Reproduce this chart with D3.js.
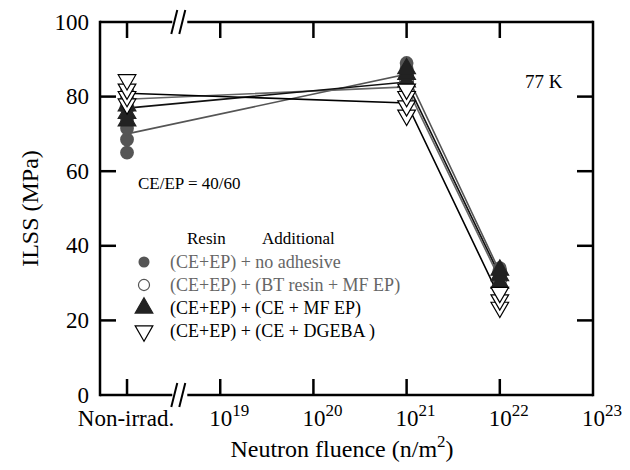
<!DOCTYPE html>
<html>
<head>
<meta charset="UTF-8">
<script src="https://cdn.jsdelivr.net/npm/d3@7"></script>
<style>
  body{ margin:0; }
  svg, svg text, svg tspan{ font-family:"Liberation Serif", Tinos, "Times New Roman", serif !important; }
</style>
</head>
<body>
<script>
// x categories: non-irradiated + fluence (n/m^2)
let fluences = ["non", 1e21, 1e22];
let xTickVals = [1e19, 1e20, 1e21, 1e22, 1e23];
let yTickVals = [0, 20, 40, 60, 80, 100];

// individual specimens per fluence
let noAdhesivePts = [[65, 68.5, 71.5, 74], [86, 87.5, 89], [32, 33, 34]];
let btResinPts    = [[77, 79, 81], [82, 84, 86], [29, 31, 33]];
let ceMfEpPts     = [[73.5, 75.5, 77.5], [84, 86, 87.5], [30, 32, 33.5]];
let dgebaPts      = [[78, 80, 82, 84.5], [75, 77.5, 80, 82], [23.5, 25.5, 27.5]];

// averages joined by lines
let noAdhesiveAvg = [70, 86, 33];
let btResinAvg    = [79.3, 82.6, 31];
let ceMfEpAvg     = [76.9, 83.9, 32];
let dgebaAvg      = [80.9, 78.3, 26];

let series = [
  {name:"(CE+EP) + no adhesive",        pts:noAdhesivePts, avg:noAdhesiveAvg, sym:"circle", fill:"#555", stroke:"none", line:"#555", txt:"#666"},
  {name:"(CE+EP) + (BT resin + MF EP)", pts:btResinPts,    avg:btResinAvg,    sym:"circle", fill:"#fff", stroke:"#555", line:"#666", txt:"#666"},
  {name:"(CE+EP) + (CE + MF EP)",       pts:ceMfEpPts,     avg:ceMfEpAvg,     sym:"up",     fill:"#222", stroke:"#222", line:"#111", txt:"#000"},
  {name:"(CE+EP) + (CE + DGEBA )",      pts:dgebaPts,      avg:dgebaAvg,      sym:"down",   fill:"#fff", stroke:"#000", line:"#000", txt:"#000"}
];

let W = 630, H = 470;
let margin = {top:22, right:37, bottom:75, left:100};
let x0 = margin.left, x1 = W - margin.right, y0 = margin.top, y1 = H - margin.bottom;

let svg = d3.select("body").append("svg").attr("width", W).attr("height", H)
  .attr("font-family", "Liberation Serif");

// log scale; "Non-irrad." sits one decade left of 10^19 (past the break)
let x = d3.scaleLog().domain([Math.pow(10, 17.71), 1e23]).range([x0, x1]);
let xPos = function(f){ return f === "non" ? x(1e18) : x(f); };
let y = d3.scaleLinear().domain([0, 100]).range([y1, y0]);

let brk = x(Math.pow(10, 18.55));
let tl = 16;

function txt(size){
  return svg.append("text").attr("font-size", size).style("font-family", "Liberation Serif");
}
function seg(xa, ya, xb, yb, w){
  return svg.append("line").attr("x1", xa).attr("y1", ya).attr("x2", xb).attr("y2", yb)
    .attr("stroke", "#000").attr("stroke-width", w || 2.5);
}

// frame with axis break on top and bottom
[y0, y1].forEach(function(yy){
  seg(x0, yy, brk - 6, yy);
  seg(brk + 9, yy, x1, yy);
  [-4, 4].forEach(function(o){ seg(brk + o - 3, yy + 12, brk + o + 3, yy - 12, 2); });
});
seg(x0, y0 - 1.2, x0, y1 + 1.2);
seg(x1, y0 - 1.2, x1, y1 + 1.2);

// x ticks (inward, top and bottom)
let xTickPos = [x(1e18)].concat(xTickVals.slice(0, 4).map(x));
xTickPos.forEach(function(px){
  seg(px, y1, px, y1 - tl);
  seg(px, y0, px, y0 + tl);
});

// y ticks (inward, left and right)
yTickVals.slice(1, 5).forEach(function(v){
  seg(x0, y(v), x0 + tl, y(v));
  seg(x1, y(v), x1 - tl, y(v));
});

yTickVals.forEach(function(v){
  txt(23).attr("x", x0 - 11).attr("y", y(v) + 7.5).attr("text-anchor","end").text(v);
});

txt(23).attr("x", x(1e18) - 1).attr("y", y1 + 31).attr("text-anchor","middle").text("Non-irrad.");

xTickVals.forEach(function(v){
  let t = txt(23).attr("x", x(v) + 9).attr("y", y1 + 31).attr("text-anchor","middle");
  t.append("tspan").text("10");
  t.append("tspan").attr("dy", -10).attr("font-size", 17).text(Math.round(Math.log10(v)));
});

txt(24).attr("x", 342).attr("y", y1 + 62).attr("text-anchor","middle")
  .call(function(t){
    t.append("tspan").text("Neutron fluence (n/m");
    t.append("tspan").attr("dy", -10).attr("font-size", 17).text("2");
    t.append("tspan").attr("dy", 10).text(")");
  });

txt(24).attr("transform", "translate(38," + ((y0 + y1) / 2) + ") rotate(-90)")
  .attr("text-anchor","middle").text("ILSS (MPa)");

// lines through averages
let line = d3.line().x(function(d, i){ return xPos(fluences[i]); }).y(function(d){ return y(d); });
series.forEach(function(s){
  svg.append("path").datum(s.avg).attr("d", line)
    .attr("fill","none").attr("stroke", s.line).attr("stroke-width", 1.6);
});

let symPath = function(sym){
  if (sym === "circle") return d3.symbol().type(d3.symbolCircle).size(150)();
  return d3.symbol().type(d3.symbolTriangle).size(135)();
};

function drawMark(g, s, px, py, sz){
  g.append("path").attr("d", symPath(s.sym))
    .attr("transform", "translate(" + px + "," + py + ")" + (s.sym === "down" ? " rotate(180)" : "") + " scale(" + (sz || 1) + ")")
    .attr("fill", s.fill).attr("stroke", s.stroke).attr("stroke-width", 1.2 / (sz || 1));
}

let marks = svg.append("g");
series.forEach(function(s){
  s.pts.forEach(function(vals, i){
    vals.forEach(function(v){ drawMark(marks, s, xPos(fluences[i]), y(v)); });
  });
});

// annotations
txt(19).attr("x", 525).attr("y", 88).text("77 K");
txt(17).attr("x", 138).attr("y", 189).text("CE/EP = 40/60");

txt(17).attr("x", 187).attr("y", 244).text("Resin");
txt(17).attr("x", 262).attr("y", 244).text("Additional");

series.forEach(function(s, i){
  let ly = 262 + i * 23;
  drawMark(svg, s, 144, ly, s.sym === "circle" ? 0.8 : 1);
  txt(18).attr("x", 170).attr("y", ly + 6).attr("fill", s.txt).text(s.name);
});
</script>
</body>
</html>
